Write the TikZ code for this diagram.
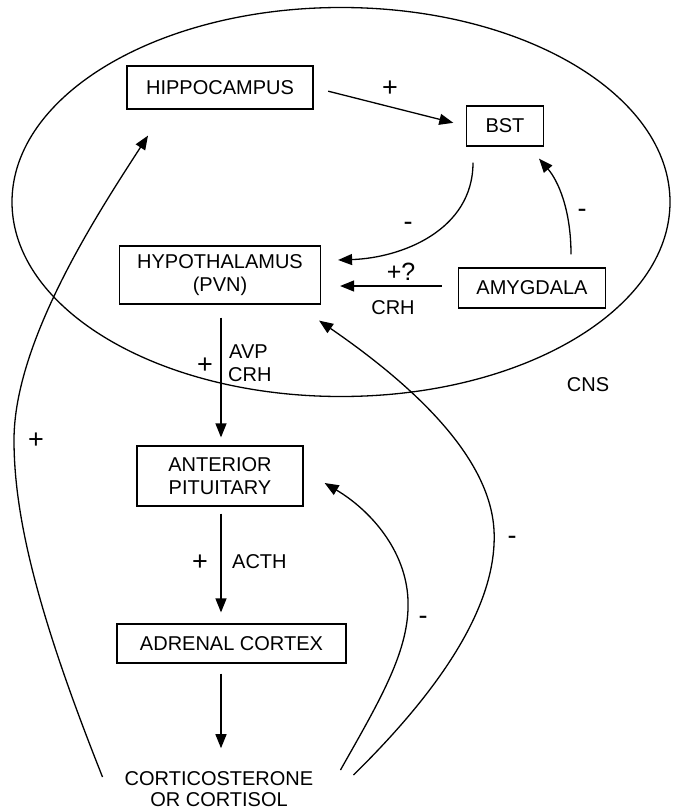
\documentclass[tikz,border=0pt]{standalone}
\usepackage{fontspec}
\setmainfont{Liberation Sans}
\usetikzlibrary{arrows.meta,calc,shapes.geometric}
\tikzset{
  lbl/.style={font=\fontsize{20}{21}\selectfont, inner sep=0pt},
  sgn/.style={font=\fontsize{27}{27}\selectfont, inner sep=0pt},
  box/.style={draw, line width=1.2pt, inner sep=0pt, align=center, font=\fontsize{20}{23}\selectfont},
  arr/.style={line width=1.3pt, -{Triangle[length=14pt,width=11pt]}},
  ln/.style={line width=1.3pt}
}
\begin{document}
\begin{tikzpicture}[x=1pt,y=-1pt]
\useasboundingbox (0,0) rectangle (673,811);
\fill[white] (0,0) rectangle (673,811);
\node[draw, ellipse, line width=1.3pt, minimum width=658pt, minimum height=389pt, inner sep=0pt] (oval) at (341,202) {};
% boxes
\node[box, minimum width=186pt, minimum height=43pt] (hip) at (220,87.5) {HIPPOCAMPUS};
\node[box, minimum width=77pt, minimum height=40pt] (bst) at (505,126) {BST};
\node[box, minimum width=201pt, minimum height=58pt] (hyp) at (220,275) {HYPOTHALAMUS\\(PVN)};
\node[box, minimum width=147pt, minimum height=40pt] (amy) at (532,288) {AMYGDALA};
\node[box, minimum width=166pt, minimum height=60pt] (ant) at (220,476) {ANTERIOR\\PITUITARY};
\node[box, minimum width=229pt, minimum height=39pt] (adr) at (231.5,643.5) {ADRENAL CORTEX};
\node[lbl, align=center] (cort) at (219,789) {CORTICOSTERONE\\OR CORTISOL};
% connectors
\draw[arr, shorten <=15pt, shorten >=13pt] (hip.east) -- (bst.west);
\draw[arr] ($(bst.south)+(-32,16)$) .. controls ($(bst.south)+(-32,84)$) and ($(hyp.east)+(80,-17)$) .. ($(hyp.east)+(17,-15)$);
\draw[arr] ($(amy.north)+(39,-13)$) .. controls ($(amy.north)+(39,-58)$) and ($(bst.south)+(53,34)$) .. ($(bst.south)+(34,12)$);
\draw[arr] ($(amy.west)+(-16,-2)$) -- ($(hyp.east)+(19,11)$);
\draw[arr] ($(hyp.south)+(1,13)$) -- ($(ant.north)+(1,-8)$);
\draw[arr] ($(ant.south)+(1,7)$) -- ($(adr.north)+(-10.5,-11)$);
\draw[arr] ($(adr.south)+(-10.5,10)$) -- ($(cort.north)+(2,-23)$);
% feedback curves
\draw[arr] ($(cort.west)+(-22,-12)$) .. controls (40,620) and (14,520) .. (14,440) .. controls (14,340) and (100,210) .. ($(hip.south)+(-72,26)$);
\draw[arr] ($(cort.east)+(40,-14)$) .. controls (440,690) and (498,605) .. (494,530) .. controls (490,460) and (420,390) .. ($(hyp.south east)+(-2,16)$);
\draw[arr] ($(cort.east)+(27,-19)$) .. controls (380,700) and (410,650) .. (408,600) .. controls (406,550) and (370,510) .. ($(ant.east)+(21,7)$);
% labels
\node[sgn] (l1) at (390,89) {+};
\node[sgn] (l2) at (408,226) {-};
\node[sgn] (l3) at (582,213) {-};
\node[font=\fontsize{25}{25}\selectfont, inner sep=0pt] (l4) at (401,272) {+?};
\node[lbl] (l5) at (393,308) {CRH};
\node[sgn] (l6) at (205,366) {+};
\node[lbl, anchor=west] (l7) at (229,352) {AVP};
\node[lbl, anchor=west] (l8) at (228,375) {CRH};
\node[lbl] (l9) at (588,385) {CNS};
\node[sgn] (l10) at (200,563) {+};
\node[lbl, anchor=west] (l11) at (232,562) {ACTH};
\node[sgn] (l12) at (512,540) {-};
\node[sgn] (l13) at (423,620) {-};
\node[sgn] (l14) at (36,441) {+};
\end{tikzpicture}
\end{document}
